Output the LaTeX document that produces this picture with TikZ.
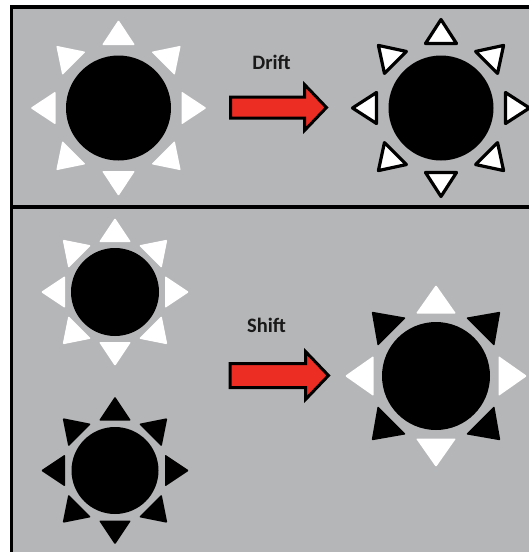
\documentclass[tikz,border=0pt]{standalone}
\usepackage{fontspec}
\setmainfont{Carlito}
\definecolor{panelgray}{RGB}{181,182,184}
\definecolor{arrowred}{RGB}{236,45,36}
\tikzset{
  panel/.style={draw=black, line width=3.5pt, fill=panelgray},
  divider/.style={draw=black, line width=4pt},
  disc/.style={fill=black},
  raywhite/.style={fill=white, rounded corners=1pt},
  rayblack/.style={fill=black, rounded corners=1pt},
  rayoutlined/.style={fill=white, draw=black, line width=3.2pt, line join=round},
  bigarrow/.style={fill=arrowred, draw=black, line width=3pt, line join=miter},
  motionlabel/.style={font=\bfseries\fontsize{20.5}{24}\selectfont, text=black!90, inner sep=0pt, anchor=base}
}
% sun: centre x, centre y, disc radius, ray base distance, ray tip distance,
% ray half width, style of the four axis rays, style of the four diagonal rays
\newcommand{\drawsun}[8]{%
  \fill[disc] (#1,#2) circle (#3);
  \foreach \a in {0,90,180,270}
    \path[#7, shift={(#1,#2)}, rotate=\a] (#4,#6) -- (#5,0) -- (#4,-#6) -- cycle;
  \foreach \a in {45,135,225,315}
    \path[#8, shift={(#1,#2)}, rotate=\a] (#4,#6) -- (#5,0) -- (#4,-#6) -- cycle;
}
\begin{document}
\begin{tikzpicture}[x=1pt, y=-1pt]
  \useasboundingbox (0,0) rectangle (529,552);
  \fill[white] (0,0) rectangle (529,552);
  \begin{scope}
    \clip (0,0) rectangle (529,552);
    \path[panel] (11.5,7) rectangle (570,590);
    \draw[divider] (11.5,207) -- (570,207);
  \end{scope}

  % upper panel: drift
  \drawsun{118.5}{108}{52.5}{63}{88}{16.5}{raywhite}{raywhite}
  \drawsun{441}{108}{52.5}{64.5}{88.5}{15.5}{rayoutlined}{rayoutlined}
  \path[bigarrow] (230.5,97) -- (304.5,97) -- (304.5,84.5) -- (326.5,107.5)
    -- (304.5,130.5) -- (304.5,118) -- (230.5,118) -- cycle;
  \node[motionlabel] (drift) at (271.5,69) {Drift};

  % lower panel: shift
  \drawsun{115}{292}{44}{50}{74}{16}{raywhite}{raywhite}
  \drawsun{115}{470.5}{43.5}{50}{74}{16}{rayblack}{rayblack}
  \drawsun{436}{376}{54}{62.5}{91}{20}{raywhite}{rayblack}
  \path[bigarrow] (230,363.5) -- (305.5,363.5) -- (305.5,351.5) -- (328.5,375.5)
    -- (305.5,399.5) -- (305.5,387.5) -- (230,387.5) -- cycle;
  \node[motionlabel] (shift) at (266.5,332.5) {Shift};
\end{tikzpicture}
\end{document}
